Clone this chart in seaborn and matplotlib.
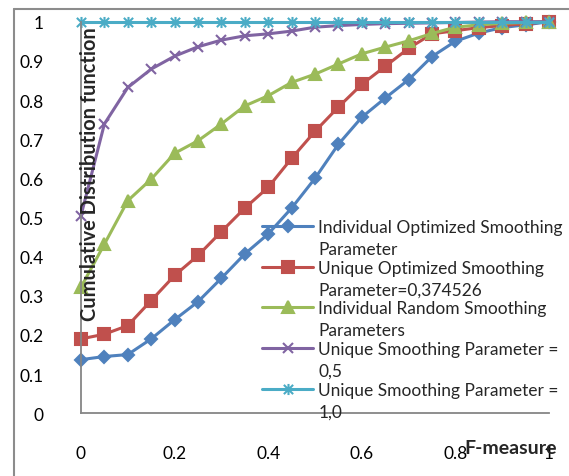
import numpy as np
import pandas as pd
import matplotlib
matplotlib.use("Agg")
import matplotlib.pyplot as plt
from matplotlib.path import Path
from matplotlib.lines import Line2D
import seaborn as sns

# ---- data ----
f_measure = [0.0, 0.05, 0.1, 0.15, 0.2, 0.25, 0.3, 0.35, 0.4, 0.45, 0.5,
             0.55, 0.6, 0.65, 0.7, 0.75, 0.8, 0.85, 0.9, 0.95, 1.0]
indiv_optimized = [0.137, 0.145, 0.150, 0.190, 0.239, 0.285, 0.345, 0.407, 0.458, 0.524, 0.600,
                   0.687, 0.756, 0.805, 0.852, 0.911, 0.950, 0.971, 0.985, 0.992, 1.0]
unique_optimized = [0.190, 0.202, 0.224, 0.288, 0.352, 0.403, 0.464, 0.524, 0.577, 0.651, 0.720,
                    0.782, 0.840, 0.886, 0.932, 0.969, 0.977, 0.985, 0.990, 0.995, 1.0]
indiv_random = [0.322, 0.432, 0.543, 0.598, 0.664, 0.696, 0.739, 0.785, 0.811, 0.845, 0.866,
                0.892, 0.918, 0.935, 0.951, 0.970, 0.986, 0.992, 0.996, 0.998, 1.0]
unique_05 = [0.505, 0.739, 0.832, 0.879, 0.912, 0.936, 0.953, 0.964, 0.969, 0.976, 0.986,
             0.990, 0.993, 0.995, 0.996, 0.997, 0.998, 0.999, 1.0, 1.0, 1.0]
unique_10 = [1.0] * 21

series_labels = [
    "Individual Optimized Smoothing\nParameter",
    "Unique Optimized Smoothing\nParameter=0,374526",
    "Individual Random Smoothing\nParameters",
    "Unique Smoothing Parameter =\n0,5",
    "Unique Smoothing Parameter =\n1,0",
]
series_values = [indiv_optimized, unique_optimized, indiv_random, unique_05, unique_10]
y_ticks = [0, 0.1, 0.2, 0.3, 0.4, 0.5, 0.6, 0.7, 0.8, 0.9, 1.0]
y_tick_labels = ["0", "0.1", "0.2", "0.3", "0.4", "0.5", "0.6", "0.7", "0.8", "0.9", "1"]
x_ticks = [0, 0.2, 0.4, 0.6, 0.8, 1.0]
x_tick_labels = ["0", "0.2", "0.4", "0.6", "0.8", "1"]

# ---- style ----
sns.set_style("white")
plt.rcParams["font.family"] = ["Lato", "DejaVu Sans"]

colors = ["#4F81BD", "#C0504D", "#9BBB59", "#8064A2", "#4BACC6"]
star = Path([(-1, -1), (1, 1), (-1, 1), (1, -1), (0, -1.2), (0, 1.2)],
            [Path.MOVETO, Path.LINETO, Path.MOVETO, Path.LINETO, Path.MOVETO, Path.LINETO])
markers = ["D", "s", "^", "x", star]
msizes = [6, 8, 8, 7, 8]

W, H = 569, 477
fig = plt.figure(figsize=(W / 100, H / 100), dpi=100)
ax = fig.add_axes([81 / W, 1 - 414.3 / H, 468 / W, 391.6 / H])

for vals, lab, c, m, ms in zip(series_values, series_labels, colors, markers, msizes):
    df = pd.DataFrame({"F-measure": f_measure, "CDF": vals})
    sns.lineplot(data=df, x="F-measure", y="CDF", ax=ax, color=c, marker=m,
                 markersize=ms, markeredgecolor=c, markerfacecolor=c,
                 markeredgewidth=1.5, linewidth=2.2, label=lab.split("\n")[0],
                 clip_on=False, errorbar=None, sort=False)

ax.set_xlim(0, 1)
ax.set_ylim(0, 1)
ax.set_xticks(x_ticks)
ax.set_xticklabels(x_tick_labels)
ax.set_yticks(y_ticks)
ax.set_yticklabels(y_tick_labels)
ax.set_xlabel("")
ax.set_ylabel("")
for s in ["top", "right"]:
    ax.spines[s].set_visible(False)
for s in ["left", "bottom"]:
    ax.spines[s].set_color("#868686")
    ax.spines[s].set_linewidth(1.3)
ax.tick_params(axis="both", direction="out", length=5, width=1.2, color="#868686",
               labelsize=12.5, labelcolor="black")
ax.tick_params(axis="y", pad=22)
ax.tick_params(axis="x", pad=18)
ax.set_facecolor("white")

leg = ax.legend(loc="upper left", bbox_to_anchor=(262 / W, 1 - 220 / H),
                bbox_transform=fig.transFigure, frameon=False, fontsize=12.5,
                handlelength=2.95, handletextpad=0.3, labelspacing=1.42,
                borderpad=0, borderaxespad=0)
leg.set_zorder(5)
# second line of each wrapped legend label, placed under its first line
for t, lab in zip(leg.get_texts(), series_labels):
    ax.annotate(lab.split("\n")[1], xy=(0, 0), xycoords=t, xytext=(0, -22),
                textcoords="offset pixels", ha="left", va="bottom",
                fontsize=12.5, annotation_clip=False, zorder=6)

fig.text(90 / W, 1 - 174 / H, "Cumulative Distribution function", rotation=90,
         ha="center", va="center", fontsize=14.4, fontweight="bold")
fig.text(511 / W, 1 - 449 / H, "F-measure", ha="center", va="center",
         fontsize=14, fontweight="bold")

# outer chart border (partially visible)
fig.add_artist(Line2D([13.5 / W, 13.5 / W], [0, 1 - 10 / H], transform=fig.transFigure,
                      color="#8c8c8c", linewidth=1.5))
fig.add_artist(Line2D([13.5 / W, 1], [1 - 10 / H, 1 - 10 / H], transform=fig.transFigure,
                      color="#8c8c8c", linewidth=1.5))

fig.savefig("out.png", dpi=100, facecolor="white")
